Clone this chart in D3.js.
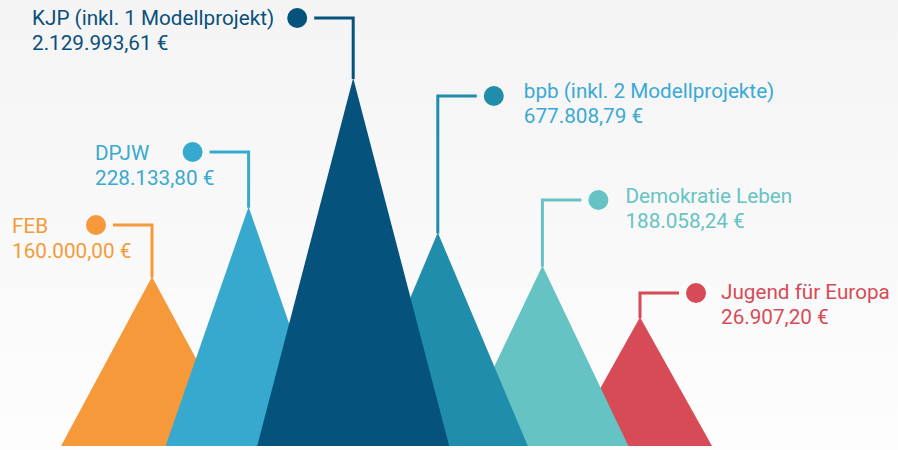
<!DOCTYPE html>
<html>
<head>
<meta charset="utf-8">
<script src="https://cdn.jsdelivr.net/npm/d3@7"></script>
<style>
  html,body{margin:0;padding:0;}
  body{width:898px;height:450px;overflow:hidden;}
  svg{display:block;}
</style>
</head>
<body>
<svg id="chart"></svg>
<script>
// data
var names=["FEB","DPJW","KJP (inkl. 1 Modellprojekt)","bpb (inkl. 2 Modellprojekte)","Demokratie Leben","Jugend für Europa"]
var amounts=["160.000,00 €","228.133,80 €","2.129.993,61 €","677.808,79 €","188.058,24 €","26.907,20 €"]
// peak height of each mountain, 0..100 (the picture is not to scale)
var peaks=[46,65,100,58,49,35]
var colors=["#f5993a","#37a9ce","#05527d","#208eab","#66c3c4","#d64b55"]
var textColors=["#f59a38","#3aa9d0","#0a507b","#3aa9d4","#66c3c4","#d64b55"]

// layout of each label (not data)
var labelLayout=[
  {side:"left", top:225,tx:12, dy:8},
  {side:"left", top:152,tx:95, dy:8},
  {side:"left", top:18, tx:32, dy:7},
  {side:"right",top:96, tx:30, dy:2},
  {side:"right",top:200,tx:27, dy:3},
  {side:"right",top:293,tx:25, dy:6}
]
var halfWidths=[91,83,96,90,86,72]
var peakShift=[0,-1,6,-7,0,0]
// draw order so the overlaps look right
var drawOrder=[0,1,5,4,3,2]

var screen={width:898,height:450}
var baseY=446

var svg=d3.select("#chart")
    .attr("width",screen.width)
    .attr("height",screen.height)

var defs=svg.append("defs")
var grad=defs.append("linearGradient")
    .attr("id","bg").attr("x1",0).attr("y1",0).attr("x2",0).attr("y2",1)
grad.append("stop").attr("offset","0%").attr("stop-color","#f4f4f4")
grad.append("stop").attr("offset","100%").attr("stop-color","#fdfdfd")
svg.append("rect").attr("width",screen.width).attr("height",screen.height).attr("fill","url(#bg)")

var xScale=d3.scalePoint()
    .domain(d3.range(names.length))
    .range([152,640])
var yScale=d3.scaleLinear()
    .domain([0,100])
    .range([baseY,78])

var items=names.map(function(n,i){
  return {i:i,name:n,amount:amounts[i],peak:peaks[i],color:colors[i],text:textColors[i],
    x:xScale(i)+peakShift[i],lay:labelLayout[i],hw:halfWidths[i]}
})

var mountains=svg.append("g").classed("mountains",true)
mountains.selectAll("path")
    .data(drawOrder.map(function(k){return items[k]}))
    .enter()
    .append("path")
    .attr("fill",function(d){return d.color})
    .attr("d",function(d){
      var line=d3.line()
      return line([[d.x-d.hw,baseY],[d.x,yScale(d.peak)],[d.x+d.hw,baseY]])+"Z"
    })

var labels=svg.append("g").classed("labels",true)
    .selectAll("g")
    .data(items)
    .enter()
    .append("g")

var r=10
labels.append("path")
    .attr("fill","none")
    .attr("stroke",function(d){return d.color})
    .attr("stroke-width",3)
    .attr("d",function(d){
      var dir=d.lay.side=="left"?-1:1
      var endX=d.x+dir*(56-r-7)
      return d3.line()([[d.x,yScale(d.peak)+1],[d.x,d.lay.top],[endX,d.lay.top]])
    })
labels.append("circle")
    .attr("cx",function(d){return d.x+(d.lay.side=="left"?-56:56)})
    .attr("cy",function(d){return d.lay.top})
    .attr("r",r)
    .attr("fill",function(d){return d.color})

var txt=labels.append("text")
    .attr("font-family","Roboto, sans-serif")
    .attr("font-size",20.7)
    .attr("fill",function(d){return d.text})
    .attr("x",function(d){return d.lay.side=="left"?d.lay.tx:d.x+56+d.lay.tx})
    .attr("y",function(d){return d.lay.top+d.lay.dy})
txt.append("tspan").text(function(d){return d.name})
txt.append("tspan")
    .attr("x",function(d){return d.lay.side=="left"?d.lay.tx:d.x+56+d.lay.tx})
    .attr("dy",25)
    .text(function(d){return d.amount})
</script>
</body>
</html>
